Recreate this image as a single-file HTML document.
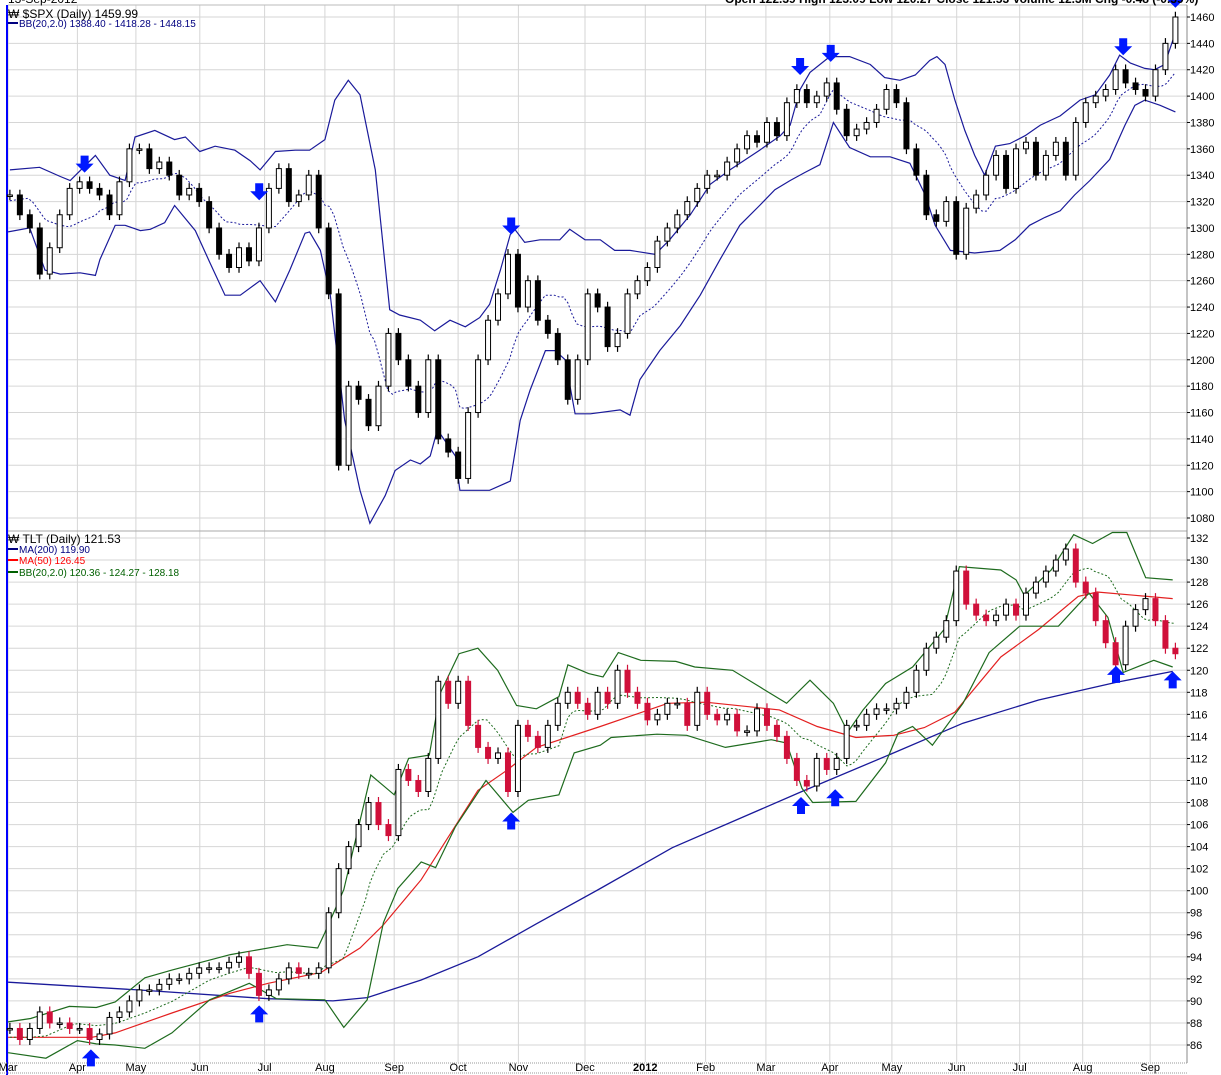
<!DOCTYPE html>
<html><head><meta charset="utf-8"><style>
body{margin:0;background:#fff;width:1221px;height:1075px;overflow:hidden;font-family:"Liberation Sans",sans-serif}
svg{display:block}
text{font-family:"Liberation Sans",sans-serif}
</style></head><body>
<svg id="c" width="1221" height="1075"></svg>
<script>
// ===== data (time in trading-day units) =====
const monthLabels=["Mar","Apr","May","Jun","Jul","Aug","Sep","Oct","Nov","Dec","2012","Feb","Mar","Apr","May","Jun","Jul","Aug","Sep"];
const monthDay=[0.9,8.6,15.1,22.2,29.4,36.1,43.8,50.9,57.6,65,71.7,78.4,85.1,92.2,99.1,106.3,113.3,120.3,127.8];
const spxClose=[1325,1310,1300,1265,1285,1310,1330,1335,1330,1325,1310,1335,1360,1360,1345,1350,1340,1325,1330,1320,1300,1280,1270,1285,1275,1300,1330,1345,1320,1325,1340,1300,1250,1120,1180,1170,1150,1180,1220,1200,1180,1160,1200,1140,1130,1110,1160,1200,1230,1250,1280,1240,1260,1230,1220,1200,1170,1200,1250,1240,1210,1220,1250,1260,1270,1290,1300,1310,1320,1330,1340,1340,1350,1360,1370,1365,1380,1370,1395,1405,1395,1400,1410,1390,1370,1375,1380,1390,1405,1395,1360,1340,1310,1305,1320,1280,1315,1325,1340,1355,1330,1360,1365,1340,1355,1365,1340,1380,1395,1400,1405,1420,1410,1405,1400,1420,1440,1460];
const spxUpperDay=[1.1,4.4,6.7,7.8,10.6,12.2,13.9,15,17.2,19.4,20.6,22.2,23.9,26.1,27.8,28.9,30.6,32.8,34.4,36.1,37.2,38.7,40,41.7,43.3,44.4,46.7,48.3,50,51.7,53.3,54.4,55.6,56.7,57.2,58.3,60,62.2,63.3,65,66.7,68.3,70,72.8,74.4,76.7,78.9,81.1,84.4,86.7,87.8,88.9,90,92.2,94.4,96.7,98.3,100,101.7,103.3,104.1,105,106.1,107.2,108.3,109.4,110.6,112.2,113.9,115.6,117.8,120,121.7,123.3,124.4,125.6,127.2,128.3,129.4,130.6];
const spxUpper=[1344,1346,1339,1336,1355,1340,1336,1369,1374,1367,1369,1358,1362,1359,1351,1344,1358,1359,1359,1367,1397,1412,1401,1344,1238,1234,1230,1222,1230,1225,1232,1242,1268,1295,1299,1289,1291,1291,1299,1291,1291,1283,1283,1280,1291,1310,1333,1344,1359,1370,1378,1405,1418,1430,1430,1424,1414,1412,1416,1427,1430,1424,1397,1374,1355,1340,1362,1364,1370,1378,1385,1397,1401,1416,1431,1425,1421,1420,1424,1448];
const spxLowerDay=[0.9,3.3,5,6.7,8.9,10.6,11.1,12.8,13.9,15.6,16.7,18.3,19.4,21.7,23.3,25,26.7,28.3,28.9,30.6,32.2,33.9,34.4,35.6,36.7,38.3,40,41.1,42.8,43.9,45.6,46.7,47.8,48.6,50.6,51.1,54.4,56.7,57.8,58.9,60.6,61.7,62.8,63.9,65.6,68.9,70,71.1,73.3,75.6,77.8,80,82.2,84.4,86.1,87.8,89.4,91.1,92.6,94.4,96.7,98.9,101.1,102.8,103.9,105.6,108.3,111.1,112.8,114.4,116.1,117.8,119.4,121.1,123.3,125,126.1,127.2,128.9,130.6];
const spxLower=[1297,1300,1268,1265,1266,1264,1276,1302,1302,1298,1299,1304,1317,1298,1274,1249,1249,1257,1260,1244,1268,1296,1297,1283,1249,1154,1101,1076,1097,1116,1124,1121,1127,1147,1127,1101,1101,1108,1154,1177,1207,1207,1200,1159,1159,1162,1158,1185,1207,1226,1249,1276,1302,1317,1329,1336,1342,1348,1380,1361,1354,1354,1349,1325,1302,1283,1281,1283,1291,1302,1308,1313,1325,1336,1352,1378,1393,1397,1393,1388];
const tltClose=[87.5,86.5,87.5,89,88,88,87.5,87.5,86.5,87,88.5,89,90,91,91,91.5,92,92,92.5,93,93,93,93.5,94,92.5,90.5,91,92,93,92.5,92.5,93,98,102,104,106,108,106,105,111,110,109,112,119,117,119,115,113,112,112.5,109,115,114,113,115,117,118,117,116,118,117,120,118,117,115.5,116,117,117,115,118,116,115.5,116,114.5,114.5,116.5,115,114,112,110,109.5,112,111,112,115,115,116,116.5,116.5,117,118,120,122,123,124.5,129,126,125,124.5,125,126,125,127,128,129,130,131,128,127,124.5,122.5,120.5,124,125.5,126.5,124.5,122,121.5];
const ma200Day=[0.9,15.3,29.8,37,40.8,46.8,53.1,59.6,66.7,74.7,89.1,99.3,107,115.4,124,130.3];
const ma200=[91.7,91,90.2,90,90.3,91.9,94,97,100.2,103.9,109,112.5,115.2,117.3,118.9,119.9];
const ma50Day=[0.9,10.2,12.8,19.1,25.6,29.8,35.7,40,42.6,46.8,51,53.1,56.1,59.6,66.7,74.2,78.4,86.6,90.8,95.1,99.3,102.7,106.1,111.2,115.4,119.8,121.9,126.1,130.3];
const ma50=[86.7,86.7,87.1,88.9,90.7,91.6,92.6,94.8,96.9,101,106.4,109.1,110.8,113,114.9,117,117.1,116.4,114.9,113.9,114.1,114.8,116.2,121.2,123.7,126.7,127.1,126.8,126.5];
const tltUpperDay=[0.9,3.4,7.7,10.7,12.8,16.1,19.1,25.6,31.9,35.3,36.1,38.2,41.2,43.8,45.4,47.7,48.9,51,53.1,55.3,57.4,59.6,62.1,63.1,65.4,67,68.7,71.2,75.1,77.2,81.4,84.4,87.4,90,92.6,94.2,95.9,98.4,101.4,104.9,106.6,111.2,112.9,113.8,116.8,119.3,121.4,123.6,125.2,127.3,130.3];
const tltUpper=[88.1,88.4,89.5,89.4,89.9,92.1,92.8,94.2,95.1,94.8,96.2,100.1,110.5,108.7,112,112.3,117.9,121.5,122,120,116.8,116.5,117.6,120.5,119.7,119.4,121.6,120.9,120.8,120.3,120,118.5,117,119.1,117,114.4,116.4,118.8,120.3,123.7,129.4,129.1,128.2,126.8,129.1,132.3,131.5,132.5,132.5,128.4,128.2];
const tltLowerDay=[0.9,5.1,8.6,10.7,12.8,16.1,19.1,23.3,27.7,30.7,36.1,38.2,40.8,42.6,44.2,46.8,48.4,50.6,54,57,58.7,62.1,63.8,66.7,67.9,73,76.3,80.6,85.7,87.4,89.1,90.3,95.1,98.4,99.8,101.4,103.6,107,109.9,113.3,117.6,121,123.1,124.8,128.2,130.3];
const tltLower=[85.3,84.8,86.4,86.1,86,85.7,87.1,90.1,91.6,90.2,90.1,87.6,90.1,97.1,100.2,102.6,102.1,105.8,110,107.1,108.2,108.7,112.5,113.2,113.9,114.2,114.1,113,113.7,113.4,109.3,108,108.1,111.6,114.3,114.9,113.2,117,121.6,124,124,127,124.8,119.8,120.9,120.3];
const spxArrowDay=[9.4,28.8,56.8,88.9,92.3,124.8,130.6];
const spxArrowVal=[1342,1321,1295,1416,1426,1431,1467];
const tltArrowDay=[10.1,28.8,56.8,89,92.8,124,130.3];
const tltArrowVal=[85.6,89.6,107.1,108.5,109.2,120.4,119.9];
const spxTicks=[1080,1100,1120,1140,1160,1180,1200,1220,1240,1260,1280,1300,1320,1340,1360,1380,1400,1420,1440,1460];
const tltTicks=[86,88,90,92,94,96,98,100,102,104,106,108,110,112,114,116,118,120,122,124,126,128,130,132];

// ===== scales =====
const NS='http://www.w3.org/2000/svg';
const svg=document.getElementById('c');
const L=8,R=1187,D0=1.1,D1=130.6;
const xd=d=>d*9;
const yS=v=>17+(1460-v)*(501/380);
const yT=v=>538+(132-v)*(507/46);
function mk(tag,at,parent){const e=document.createElementNS(NS,tag);for(const k in at)e.setAttribute(k,at[k]);(parent||svg).appendChild(e);return e;}
function txt(s,at){const e=mk('text',at);e.textContent=s;return e;}

const defs=mk('defs',{});
const c1=mk('clipPath',{id:'clipTop'},defs);mk('rect',{x:L,y:5,width:R-L,height:526},c1);
const c2=mk('clipPath',{id:'clipBot'},defs);mk('rect',{x:L,y:531,width:R-L,height:532},c2);

// grid
const grid=mk('g',{});


monthDay.forEach(d=>{const x=xd(d);mk('line',{x1:x,x2:x,y1:5,y2:1062,stroke:'#d6d6d6'},grid);});
spxTicks.forEach(v=>mk('line',{x1:L,x2:R,y1:yS(v),y2:yS(v),stroke:'#d6d6d6'},grid));
tltTicks.forEach(v=>mk('line',{x1:L,x2:R,y1:yT(v),y2:yT(v),stroke:'#d6d6d6'},grid));
mk('line',{x1:L,x2:R,y1:5,y2:5,stroke:'#bbb'});
mk('line',{x1:L,x2:R,y1:531,y2:531,stroke:'#aaa'});
mk('line',{x1:R,x2:R,y1:5,y2:1063,stroke:'#888'});
mk('line',{x1:7,x2:7,y1:5,y2:1075,stroke:'#00f','stroke-width':2});
mk('line',{x1:0,x2:R,y1:1063,y2:1063,stroke:'#999','stroke-dasharray':'1,1'});
mk('line',{x1:0,x2:R,y1:1073,y2:1073,stroke:'#999','stroke-dasharray':'1,1'});

spxTicks.forEach(v=>{const t=txt(v,{x:1190,y:yS(v)+4,'font-size':11,fill:'#000'});


mk('line',{x1:R,x2:R+3,y1:yS(v),y2:yS(v),stroke:'#000'});});
tltTicks.forEach(v=>{const t=txt(v,{x:1190,y:yT(v)+4,'font-size':11,fill:'#000'});


mk('line',{x1:R,x2:R+3,y1:yT(v),y2:yT(v),stroke:'#000'});});
monthLabels.forEach((m,i)=>{const t=txt(m,{x:xd(monthDay[i]),y:1071,'font-size':11,'text-anchor':'middle','font-weight':m==='2012'?'bold':'normal'});

});

function line(days,vals,ys,at,name,clip){const d=days.map((dd,i)=>(i?'L':'M')+xd(dd).toFixed(1)+','+ys(vals[i]).toFixed(1)).join('');const p=mk('path',Object.assign({d:d,fill:'none','clip-path':'url(#'+clip+')'},at));

return p;}
function interp(days,vals,d){if(d<=days[0])return vals[0];for(let i=1;i<days.length;i++){if(d<=days[i]){const t=(d-days[i-1])/(days[i]-days[i-1]);return vals[i-1]+t*(vals[i]-vals[i-1]);}}return vals[vals.length-1];}
function midBand(uD,u,lD,l){const ds=[],vs=[];for(let d=D0;d<D1;d+=0.5){ds.push(d);vs.push((interp(uD,u,d)+interp(lD,l,d))/2);}ds.push(D1);vs.push((interp(uD,u,D1)+interp(lD,l,D1))/2);return [ds,vs];}

function candles(closes,ys,upCol,downCol,rng,name){const n=closes.length;const step=(D1-D0)/(n-1);
closes.forEach((c,i)=>{const o=i?closes[i-1]:c;const x=xd(D0+i*step);const hi=Math.max(o,c)+rng,lo=Math.min(o,c)-rng;const up=c>=o;const g=mk('g',{});


const col=up?upCol:downCol;
mk('line',{x1:x,x2:x,y1:ys(hi),y2:ys(lo),stroke:col,'stroke-width':1.2},g);
const top=ys(Math.max(o,c)),h=Math.max(1.5,ys(Math.min(o,c))-top);
mk('rect',{x:x-2.5,y:top,width:5,height:h,fill:up?'#fff':col,stroke:col},g);});}

// SPX
line(spxUpperDay,spxUpper,yS,{stroke:'#1a1a9a','stroke-width':1.2},'spx-bb-upper','clipTop');
line(spxLowerDay,spxLower,yS,{stroke:'#1a1a9a','stroke-width':1.2},'spx-bb-lower','clipTop');
const sm=midBand(spxUpperDay,spxUpper,spxLowerDay,spxLower);
line(sm[0],sm[1],yS,{stroke:'#1a1a9a','stroke-dasharray':'2,2'},'spx-bb-middle','clipTop');
candles(spxClose,yS,'#000','#000',4,'spx-candle');

// TLT
line(ma200Day,ma200,yT,{stroke:'#1a1a9a','stroke-width':1.3},'tlt-ma200','clipBot');
line(ma50Day,ma50,yT,{stroke:'#e32020','stroke-width':1.2},'tlt-ma50','clipBot');
line(tltUpperDay,tltUpper,yT,{stroke:'#1e6b1e','stroke-width':1.2},'tlt-bb-upper','clipBot');
line(tltLowerDay,tltLower,yT,{stroke:'#1e6b1e','stroke-width':1.2},'tlt-bb-lower','clipBot');
const tm=midBand(tltUpperDay,tltUpper,tltLowerDay,tltLower);
line(tm[0],tm[1],yT,{stroke:'#1e6b1e','stroke-dasharray':'2,2'},'tlt-bb-middle','clipBot');
candles(tltClose,yT,'#000','#d0103a',0.5,'tlt-candle');

// arrows
spxArrowDay.forEach((d,i)=>{const x=xd(d),y=yS(spxArrowVal[i]);const p=mk('path',{d:`M${x},${y}l-9,-9h5v-8h8v8h5z`,fill:'#0018ff'});

});
tltArrowDay.forEach((d,i)=>{const x=xd(d),y=yT(tltArrowVal[i]);const p=mk('path',{d:`M${x},${y}l9,9h-5v8h-8v-8h-5z`,fill:'#0018ff'});

});

// headers
function hdr(s,x,y,fill,name,fs,extra){const t=txt(s,Object.assign({x:x,y:y,'font-size':fs,fill:fill},extra||{}));

return t;}
hdr('13-Sep-2012',8,3,'#000','date-label',12);
hdr('Open 122.39  High 123.09  Low 120.27  Close 121.53  Volume 12.3M  Chg -0.48 (-0.39%)',725,3,'#000','ohlc-summary',12,{'font-weight':'bold'});
hdr('₩ $SPX (Daily) 1459.99',8,18,'#000','spx-title',12);
mk('rect',{x:8,y:22,width:10,height:2,fill:'#000080'});
hdr('BB(20,2.0) 1388.40 - 1418.28 - 1448.15',19,27,'#000080','spx-bb-legend',10);
hdr('₩ TLT (Daily) 121.53',8,543,'#000','tlt-title',12);
mk('rect',{x:8,y:548,width:10,height:2,fill:'#000080'});
hdr('MA(200) 119.90',19,553,'#000080','ma200-legend',10);
mk('rect',{x:8,y:559,width:10,height:2,fill:'#f00'});
hdr('MA(50) 126.45',19,564,'#f00','ma50-legend',10);
mk('rect',{x:8,y:571,width:10,height:2,fill:'#006000'});
hdr('BB(20,2.0) 120.36 - 124.27 - 128.18',19,576,'#006000','tlt-bb-legend',10);
</script>
</body></html>
